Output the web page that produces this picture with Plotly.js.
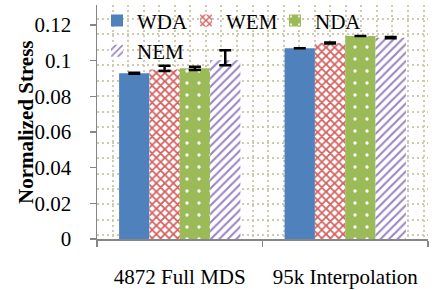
<!DOCTYPE html>
<html>
<head>
<meta charset="utf-8">
<script src="https://cdn.plot.ly/plotly-3.0.1.min.js"></script>
<style>
html,body{margin:0;padding:0;background:#fff;}
#chart{width:448px;height:290px;}
</style>
</head>
<body>
<div id="chart"></div>
<script>
// Data
const categories = ["4872 Full MDS", "95k Interpolation"];
const seriesNames = ["WDA", "WEM", "NDA", "NEM"];
const wdaValues = [0.0929, 0.1069];
const wemValues = [0.0950, 0.1099];
const ndaValues = [0.0957, 0.1138];
const nemValues = [0.1002, 0.1129];
const wdaErrPlus = [0.0003, null];
const wdaErrMinus = [0.0003, null];
const wemErrPlus = [0.0022, 0.0003];
const wemErrMinus = [0.0008, 0.0003];
const ndaErrPlus = [0.0009, null];
const ndaErrMinus = [0.0010, null];
const nemErrPlus = [0.0056, 0.0003];
const nemErrMinus = [0.0028, 0.0003];
const yTickVals = [0, 0.02, 0.04, 0.06, 0.08, 0.1, 0.12];
const yTickText = ["0", "0.02", "0.04", "0.06", "0.08", "0.1", "0.12"];

const FONT = "Liberation Serif, DejaVu Serif, serif";
const errStyle = (plus, minus) => ({
  type: "data", symmetric: false, array: plus, arrayminus: minus,
  color: "#000", thickness: 2.5, width: 6
});

const traces = [
  { type: "bar", name: seriesNames[0], x: categories, y: wdaValues,
    marker: { color: "#4f81bd", line: { width: 0 } },
    error_y: errStyle(wdaErrPlus, wdaErrMinus) },
  { type: "bar", name: seriesNames[1], x: categories, y: wemValues,
    marker: { color: "#ffffff", line: { width: 0 },
      pattern: { shape: "x", fgcolor: "#d2605e", bgcolor: "#ffffff", fgopacity: 1, size: 6, solidity: 0.5, fillmode: "overlay" } },
    error_y: errStyle(wemErrPlus, wemErrMinus) },
  { type: "bar", name: seriesNames[2], x: categories, y: ndaValues,
    marker: { color: "#9bbb59", line: { width: 0 },
      pattern: { shape: ".", fgcolor: "#ffffff", bgcolor: "#9bbb59", fgopacity: 1, size: 12, solidity: 0.06, fillmode: "overlay" } },
    error_y: errStyle(ndaErrPlus, ndaErrMinus) },
  { type: "bar", name: seriesNames[3], x: categories, y: nemValues,
    marker: { color: "#ffffff", line: { width: 0 },
      pattern: { shape: "/", fgcolor: "#9a86c2", bgcolor: "#ffffff", fgopacity: 1, size: 6, solidity: 0.35, fillmode: "overlay" } },
    error_y: errStyle(nemErrPlus, nemErrMinus) },
  // invisible helper trace for the background grid axes
  { type: "scatter", x: [0], y: [0], xaxis: "x2", yaxis: "y2", mode: "markers",
    marker: { opacity: 0 }, showlegend: false, hoverinfo: "skip" }
];

const gridStyle = {
  showgrid: true, gridcolor: "#cfcab0", gridwidth: 2, griddash: "2px,3px",
  showticklabels: false, ticks: "", showline: false, zeroline: false, fixedrange: true
};

const layout = {
  width: 448, height: 290,
  margin: { l: 97, r: 20, t: 5, b: 51, autoexpand: false },
  paper_bgcolor: "#ffffff", plot_bgcolor: "#ffffff",
  barmode: "group", bargap: 0.267, bargroupgap: 0,
  font: { family: FONT, size: 21, color: "#000" },
  showlegend: true,
  legend: {
    orientation: "h", xref: "paper", yref: "paper",
    x: 0.0, xanchor: "left", y: 1.02, yanchor: "top",
    bgcolor: "rgba(0,0,0,0)", font: { family: FONT, size: 21, color: "#000" },
    entrywidth: 44, entrywidthmode: "pixels", itemclick: false
  },
  xaxis: {
    type: "category", tickson: "boundaries", ticks: "outside", ticklen: 6,
    tickcolor: "#868686", tickwidth: 1.5, showline: true, linecolor: "#868686", linewidth: 1.5,
    showgrid: false, zeroline: false, ticklabelstandoff: 18,
    tickfont: { family: FONT, size: 21, color: "#000" }
  },
  yaxis: {
    range: [0, 0.1312], tickvals: yTickVals, ticktext: yTickText,
    ticks: "outside", ticklen: 6, tickcolor: "#868686", tickwidth: 1.5,
    showline: true, linecolor: "#868686", linewidth: 1.5,
    showgrid: false, zeroline: false, ticklabelstandoff: 14,
    tickfont: { family: FONT, size: 21, color: "#000" }
  },
  xaxis2: Object.assign({ overlaying: "x", side: "top", range: [0, 331], tick0: 0, dtick: 15.55 }, gridStyle),
  yaxis2: Object.assign({ overlaying: "y", side: "right", range: [0, 234], tick0: 3.7, dtick: 15.45 }, gridStyle),
  annotations: [{
    text: "<b>Normalized Stress</b>", textangle: -90,
    xref: "paper", yref: "paper", x: -0.2145, y: 0.5,
    xanchor: "center", yanchor: "middle", showarrow: false,
    font: { family: FONT, size: 21, color: "#000" }
  }]
};

Plotly.newPlot("chart", traces, layout, { displayModeBar: false, staticPlot: true });
</script>
</body>
</html>
